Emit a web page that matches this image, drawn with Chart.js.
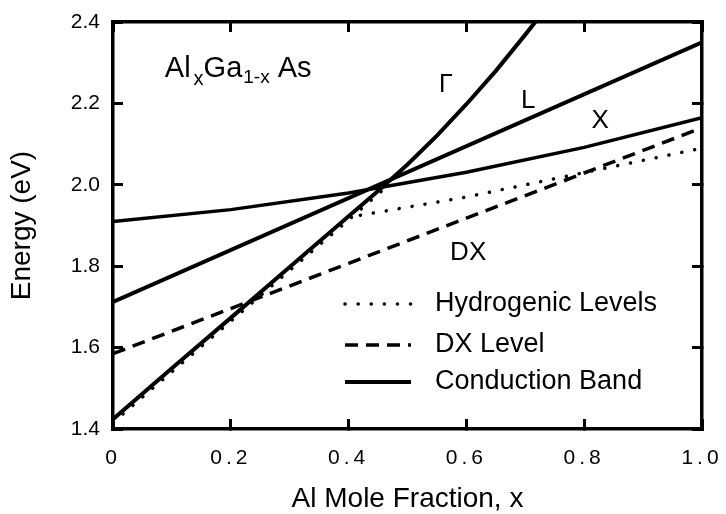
<!DOCTYPE html>
<html>
<head>
<meta charset="utf-8">
<title>AlGaAs band edges</title>
<script src="https://cdn.jsdelivr.net/npm/chart.js@4.4.1/dist/chart.umd.min.js"></script>
<style>
  html, body { margin: 0; padding: 0; background: #fff; }
</style>
</head>
<body>
<canvas id="bandChart" width="726" height="514"></canvas>
<script>
// Al mole fraction (x) and energy (eV)

// Gamma conduction band minimum (bends upward past x ~ 0.45)
const gammaX = [0, 0.1, 0.2, 0.3, 0.4, 0.45, 0.5, 0.55, 0.6, 0.65, 0.7, 0.73];
const gammaE = [1.424, 1.549, 1.673, 1.798, 1.923, 1.985, 2.050, 2.121, 2.198, 2.280, 2.369, 2.424];

// L valley
const lX = [0, 1.0];
const lE = [1.712, 2.35];

// X valley
const xvX = [0, 0.2, 0.4, 0.6, 0.8, 1.0];
const xvE = [1.910, 1.939, 1.980, 2.031, 2.092, 2.165];

// DX level
const dxX = [0, 0.2, 0.4, 0.6, 0.8, 1.0];
const dxE = [1.585, 1.696, 1.807, 1.918, 2.029, 2.140];

// hydrogenic levels: one just under Gamma, one under the X valley
const hydGX = [0, 0.1, 0.2, 0.3, 0.4, 0.465];
const hydGE = [1.416, 1.541, 1.665, 1.790, 1.914, 1.996];
const hydXX = [0.42, 0.6, 0.8, 1.0];
const hydXE = [1.925, 1.970, 2.030, 2.090];

const xTickLabels = ["0", "0.2", "0.4", "0.6", "0.8", "1.0"];
const yTickLabels = ["1.4", "1.6", "1.8", "2.0", "2.2", "2.4"];

const FONT = "'Liberation Sans', Arial, Helvetica, sans-serif";

const toPoints = (xs, ys) => xs.map((x, i) => ({ x: x, y: ys[i] }));

function lineSet(label, xs, ys, extra) {
  return Object.assign({
    label: label,
    data: toPoints(xs, ys),
    borderColor: "#000",
    borderWidth: 4,
    pointRadius: 0,
    fill: false,
    tension: 0,
  }, extra || {});
}

const datasets = [
  lineSet("Conduction Band", gammaX, gammaE),
  lineSet("L", lX, lE),
  lineSet("X", xvX, xvE, { borderWidth: 3.5 }),
  lineSet("DX Level", dxX, dxE, { borderWidth: 3.5, borderDash: [13, 8] }),
  lineSet("Hydrogenic Levels", hydGX, hydGE, { borderWidth: 3.5, borderDash: [0.1, 13], borderCapStyle: "round" }),
  lineSet("Hydrogenic Levels", hydXX, hydXE, { borderWidth: 3.5, borderDash: [0.1, 13], borderCapStyle: "round" }),
];

// text labels inside the plot, placed in data units
const notes = [
  { text: "\u0393", x: 0.565, y: 2.244, size: 25 },
  { text: "L", x: 0.705, y: 2.207, size: 26 },
  { text: "X", x: 0.827, y: 2.156, size: 26 },
  { text: "DX", x: 0.603, y: 1.832, size: 26 },
];

const legendItems = [
  { text: "Hydrogenic Levels", ds: 4 },
  { text: "DX Level", ds: 3 },
  { text: "Conduction Band", ds: 0 },
];

const textPlugin = {
  id: "bandText",
  beforeDraw(chart) {
    // the bottom tick labels are set with wide letter spacing in the original
    const sx = chart.scales.x;
    if (!sx._spaced) {
      const orig = sx.drawLabels;
      sx.drawLabels = function (area) {
        this.ctx.save();
        this.ctx.letterSpacing = "4px";
        orig.call(this, area);
        this.ctx.restore();
      };
      sx._spaced = true;
    }
  },
  afterDraw(chart) {
    const ctx = chart.ctx;
    const xs = chart.scales.x, ys = chart.scales.y;
    const area = chart.chartArea;
    ctx.save();
    ctx.fillStyle = "#000";

    notes.forEach((n) => {
      ctx.font = n.size + "px " + FONT;
      ctx.textAlign = "center";
      ctx.textBaseline = "middle";
      ctx.fillText(n.text, xs.getPixelForValue(n.x), ys.getPixelForValue(n.y));
    });

    // Al_x Ga_1-x As
    let px = xs.getPixelForValue(0.088);
    const base = ys.getPixelForValue(2.264);
    ctx.textAlign = "left";
    ctx.textBaseline = "alphabetic";
    const parts = [
      { t: "Al", size: 29, dy: 0, gap: 3 },
      { t: "x", size: 20, dy: 8, gap: 0 },
      { t: "Ga", size: 29, dy: 0, gap: 1 },
      { t: "1-x", size: 19, dy: 6, gap: 0 },
      { t: " As", size: 29, dy: 0, gap: 0 },
    ];
    parts.forEach((p) => {
      ctx.font = p.size + "px " + FONT;
      ctx.fillText(p.t, px, base + p.dy);
      px += ctx.measureText(p.t).width + p.gap;
    });

    // legend, bottom right inside the frame
    const rows = [304, 345, 382];
    legendItems.forEach((item, i) => {
      const ds = chart.data.datasets[item.ds];
      const y = rows[i];
      ctx.beginPath();
      ctx.lineWidth = ds.borderWidth;
      ctx.lineCap = ds.borderCapStyle || "butt";
      ctx.setLineDash(ds.borderDash || []);
      ctx.strokeStyle = "#000";
      ctx.moveTo(area.left + 232, y);
      ctx.lineTo(area.left + 298, y);
      ctx.stroke();
      ctx.setLineDash([]);
      ctx.font = "27px " + FONT;
      ctx.textBaseline = "middle";
      ctx.fillText(item.text, area.left + 322, y);
    });
    ctx.restore();
  },
};

// fixed axis sizes; drop the label overhang padding so the frame sits where the original is
function fixSize(prop, size) {
  return (s) => {
    s[prop] = size;
    s.paddingTop = 0;
    s.paddingBottom = 0;
    s.paddingLeft = 0;
    s.paddingRight = 0;
  };
}

const frameGrid = { drawOnChartArea: false, drawTicks: true, tickLength: -10, tickWidth: 3, lineWidth: 3, color: "#000" };
const frameBorder = { display: true, color: "#000", width: 3.5 };

new Chart(document.getElementById("bandChart").getContext("2d"), {
  type: "line",
  data: { datasets: datasets },
  options: {
    responsive: false,
    animation: false,
    layout: { padding: { left: 0, top: 22, right: 24, bottom: 0 } },
    plugins: { legend: { display: false }, tooltip: { enabled: false } },
    scales: {
      x: {
        type: "linear", position: "bottom", min: 0, max: 1,
        ticks: {
          stepSize: 0.2, autoSkip: false, maxRotation: 0, padding: 27, color: "#000",
          font: { family: FONT, size: 21 },
          callback: (v, i) => xTickLabels[i],
        },
        grid: frameGrid,
        border: frameBorder,
        title: {
          display: true, text: "Al Mole Fraction, x", color: "#000",
          font: { family: FONT, size: 28, lineHeight: 1 }, padding: { top: 0, bottom: 1 },
        },
        afterFit: fixSize("height", 85),
      },
      x2: {
        type: "linear", position: "top", min: 0, max: 1,
        ticks: { stepSize: 0.2, display: false },
        grid: frameGrid,
        border: frameBorder,
        afterFit: fixSize("height", 0),
      },
      y: {
        type: "linear", position: "left", min: 1.4, max: 2.4,
        ticks: {
          stepSize: 0.2, padding: 23, color: "#000",
          font: { family: FONT, size: 21 },
          callback: (v, i) => yTickLabels[i],
        },
        grid: frameGrid,
        border: frameBorder,
        title: {
          display: true, text: "Energy (eV)", color: "#000",
          font: { family: FONT, size: 28, lineHeight: 1 }, padding: { top: 8, bottom: 0 },
        },
        afterFit: fixSize("width", 113),
      },
      y2: {
        type: "linear", position: "right", min: 1.4, max: 2.4,
        ticks: { stepSize: 0.2, display: false },
        grid: frameGrid,
        border: frameBorder,
        afterFit: fixSize("width", 0),
      },
    },
  },
  plugins: [textPlugin],
});
</script>
</body>
</html>
